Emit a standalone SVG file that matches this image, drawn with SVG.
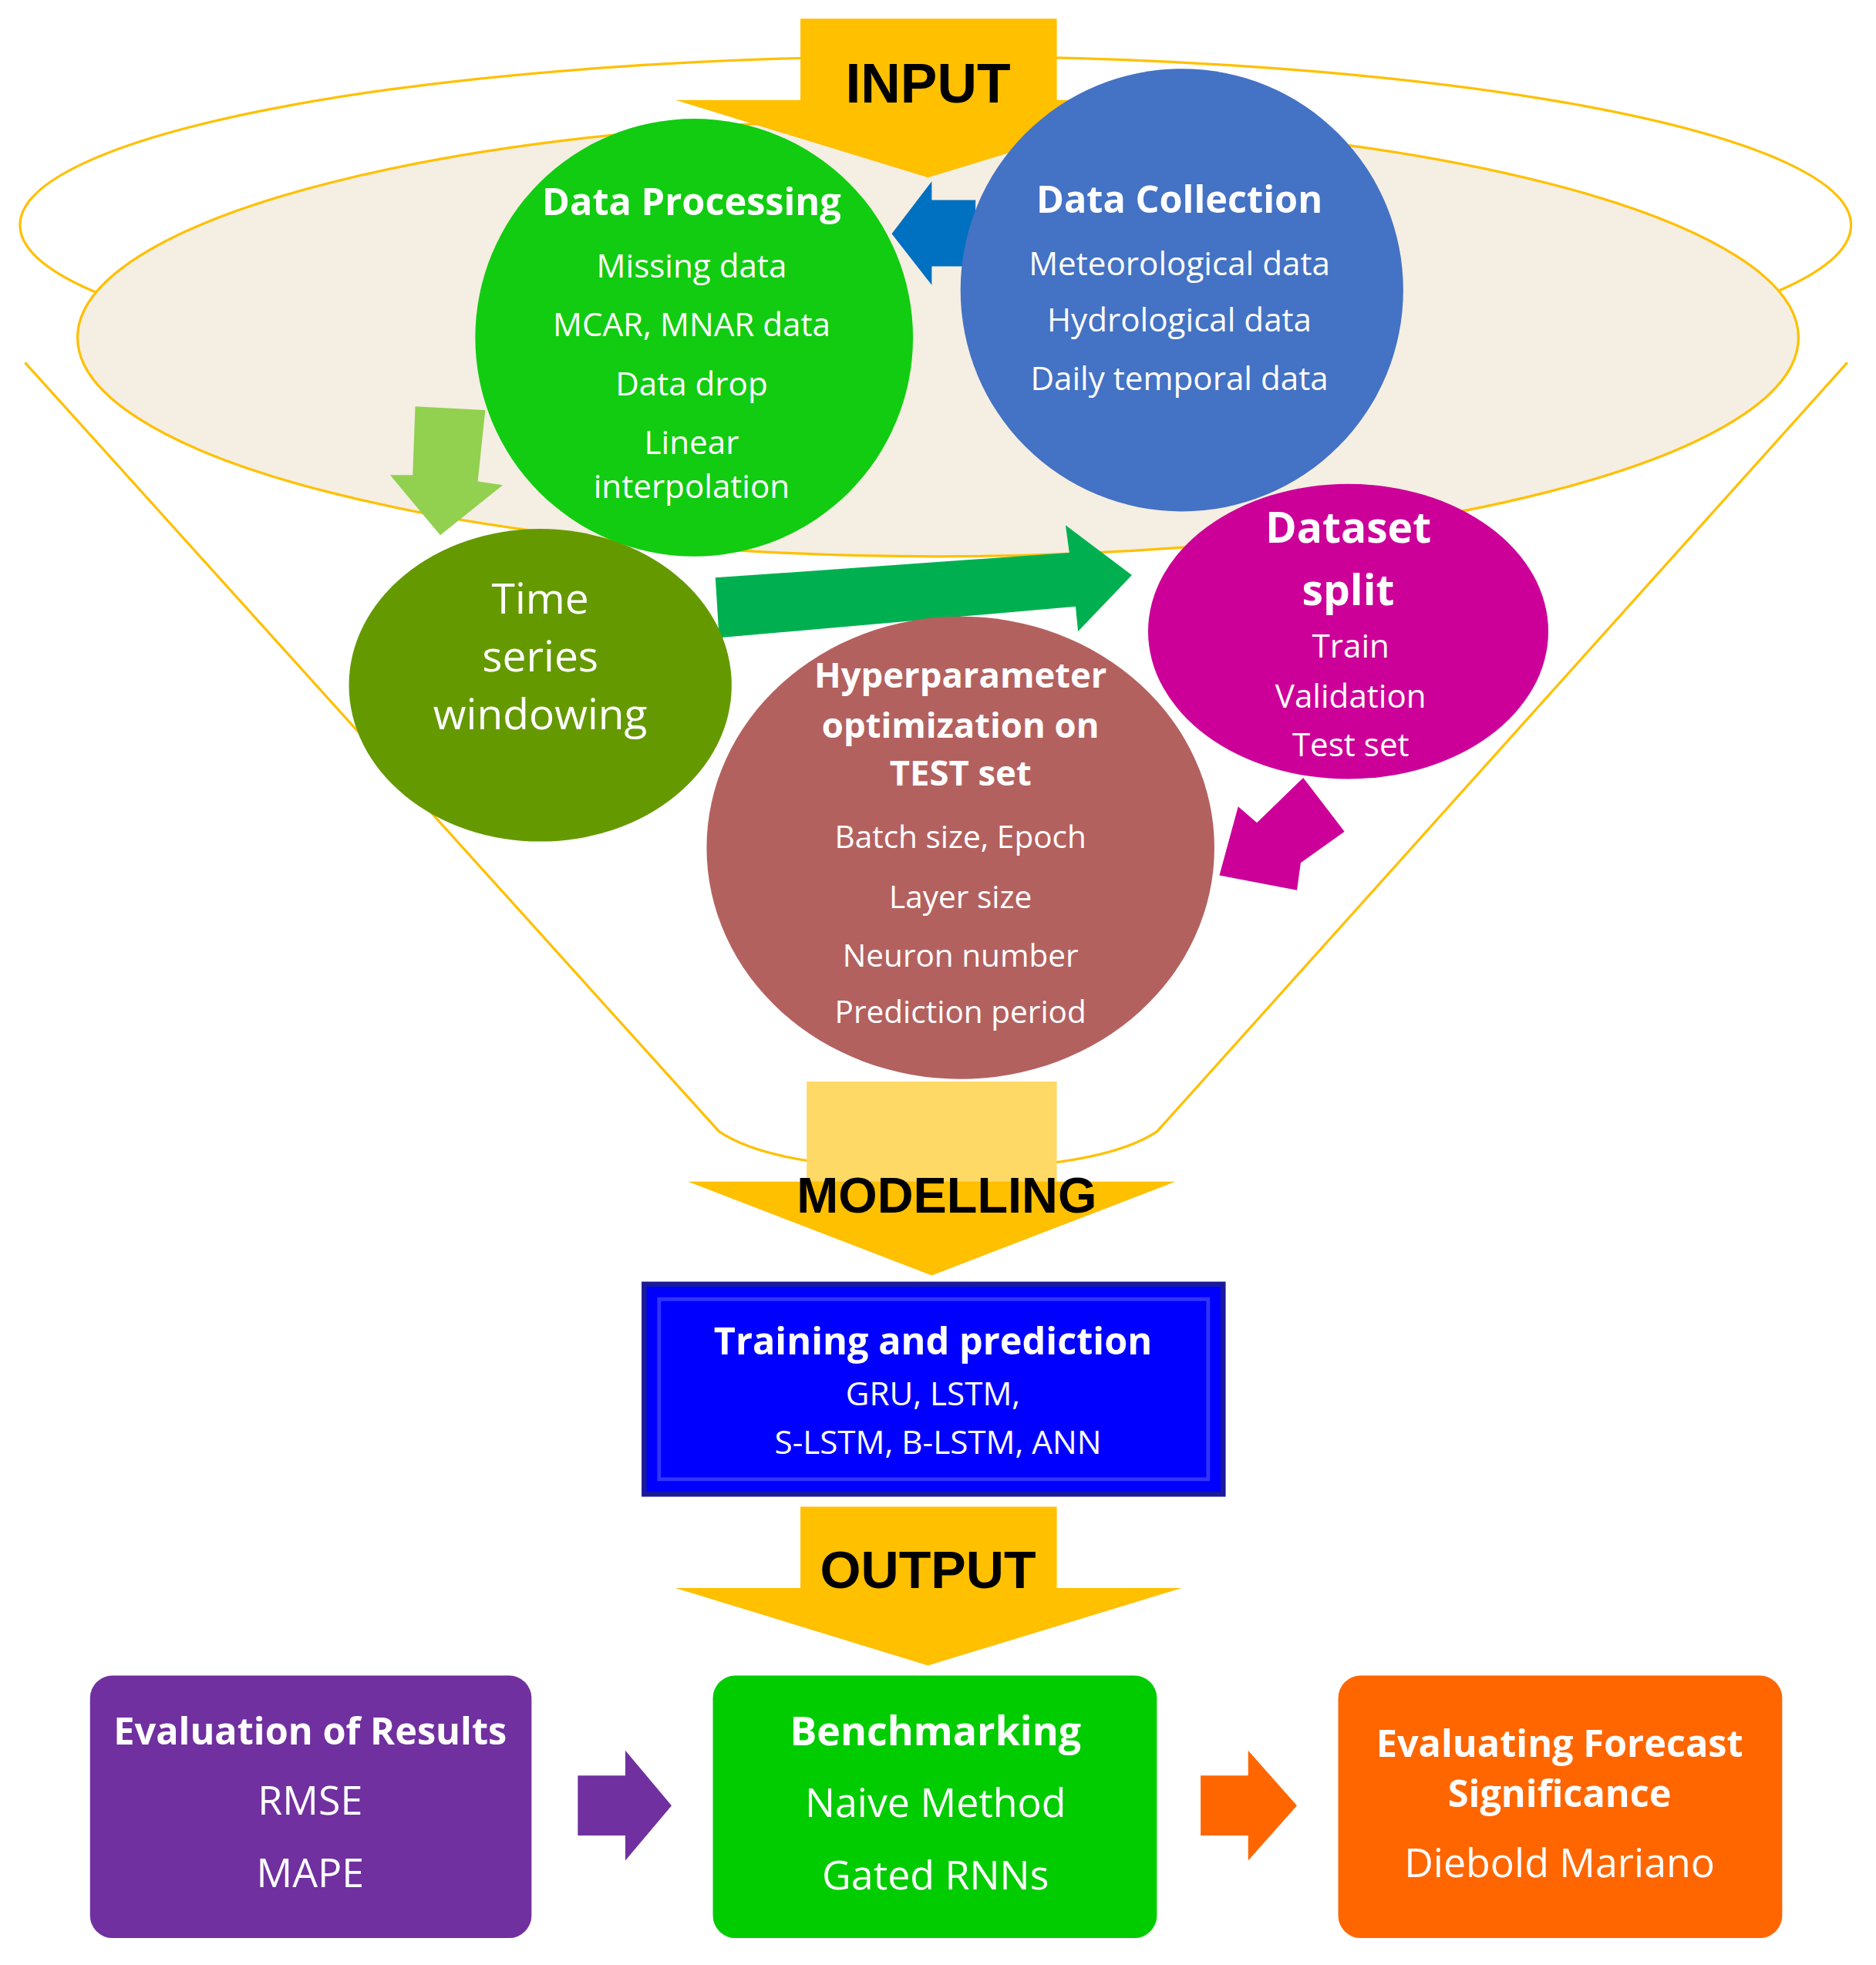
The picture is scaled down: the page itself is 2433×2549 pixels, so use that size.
<svg xmlns="http://www.w3.org/2000/svg" width="2433" height="2549" viewBox="0 0 2433 2549">
<style>
text{font-family:"Open Sans","Liberation Sans",sans-serif;fill:#fff;text-anchor:middle}
.b{font-weight:bold}
.k{fill:#000;font-weight:bold;font-family:"Liberation Sans Narrow","Liberation Sans",sans-serif}
.y{fill:#ffc000}
</style>
<rect width="2433" height="2549" fill="#fff"/>
<g transform="scale(1.622)">
<g id="funnel">
<path d="M20,290 L575,905 Q620,935 748,935 Q880,935 925,905 L1477,290" fill="none" stroke="#ffc000" stroke-width="2"/>
<ellipse cx="748" cy="180" rx="732" ry="135" fill="none" stroke="#ffc000" stroke-width="2"/>
<ellipse cx="750" cy="270" rx="688" ry="175" fill="#f5eee2" stroke="#ffc000" stroke-width="2"/>
</g>
<g id="connectors">
<polygon class="y" points="640,15 845,15 845,80 945,80 742,142 540,80 640,80"/>
<polygon fill="#0070c0" points="780,160 745,160 745,145 713,187 745,228 745,213 780,213"/>
<polygon fill="#92d050" points="332,325 388,328 382,385 402,388 352,428 312,380 330,380"/>
<polygon fill="#00b050" points="572,462 855,442 852,420 905,460 862,505 860,485 575,510"/>
<polygon fill="#cc0099" points="1042,622 1075,665 1040,690 1037,712 975,700 990,645 1005,658"/>
<rect x="645" y="865" width="200" height="82" fill="#ffd966"/>
<polygon class="y" points="550,945 940,945 745,1020"/>
<polygon class="y" points="640,1205 845,1205 845,1270 945,1270 742,1332 540,1270 640,1270"/>
<polygon fill="#7030a0" points="462,1420 500,1420 500,1400 537,1444 500,1488 500,1468 462,1468"/>
<polygon fill="#ff6600" points="960,1420 998,1420 998,1400 1037,1444 998,1488 998,1468 960,1468"/>
</g>
<g id="input"><text class="k" x="742" y="82" font-size="44">INPUT</text></g>
<g id="modelling"><text class="k" x="757" y="970" font-size="40">MODELLING</text></g>
<g id="output"><text class="k" x="742" y="1270" font-size="42">OUTPUT</text></g>
<g id="dataProcessing">
<circle cx="555" cy="270" r="175" fill="#11cc11"/>
<text class="b" x="553" y="172" font-size="30">Data Processing</text>
<text x="553" y="222" font-size="26">Missing data</text>
<text x="553" y="269" font-size="26">MCAR, MNAR data</text>
<text x="553" y="316" font-size="26">Data drop</text>
<text x="553" y="363" font-size="26">Linear</text>
<text x="553" y="398" font-size="26">interpolation</text>
</g>
<g id="dataCollection">
<circle cx="945" cy="232" r="177" fill="#4472c4"/>
<text class="b" x="943" y="170" font-size="30">Data Collection</text>
<text x="943" y="220" font-size="26">Meteorological data</text>
<text x="943" y="265" font-size="26">Hydrological data</text>
<text x="943" y="312" font-size="26">Daily temporal data</text>
</g>
<g id="timeSeries">
<ellipse cx="432" cy="548" rx="153" ry="125" fill="#659900"/>
<text x="432" y="491" font-size="34">Time</text>
<text x="432" y="537" font-size="34">series</text>
<text x="432" y="583" font-size="34">windowing</text>
</g>
<g id="datasetSplit">
<ellipse cx="1078" cy="505" rx="160" ry="118" fill="#cc0099"/>
<text class="b" x="1078" y="434" font-size="34">Dataset</text>
<text class="b" x="1078" y="484" font-size="34">split</text>
<text x="1080" y="526" font-size="26">Train</text>
<text x="1080" y="566" font-size="26">Validation</text>
<text x="1080" y="605" font-size="26">Test set</text>
</g>
<g id="hyperparameter">
<ellipse cx="768" cy="678" rx="203" ry="185" fill="#b3615f"/>
<text class="b" x="768" y="550" font-size="28">Hyperparameter</text>
<text class="b" x="768" y="590" font-size="28">optimization on</text>
<text class="b" x="768" y="628" font-size="28">TEST set</text>
<text x="768" y="678" font-size="25">Batch size, Epoch</text>
<text x="768" y="726" font-size="25">Layer size</text>
<text x="768" y="773" font-size="25">Neuron number</text>
<text x="768" y="818" font-size="25">Prediction period</text>
</g>
<g id="training">
<rect x="515" y="1027" width="463" height="168" fill="#0000ff" stroke="#1a1a99" stroke-width="4"/>
<rect x="527" y="1039" width="439" height="144" fill="none" stroke="#3333ff" stroke-width="3"/>
<text class="b" x="746" y="1083" font-size="30">Training and prediction</text>
<text x="746" y="1124" font-size="26">GRU, LSTM,</text>
<text x="750" y="1163" font-size="26">S-LSTM, B-LSTM, ANN</text>
</g>
<g id="evaluation">
<rect x="72" y="1340" width="353" height="210" rx="18" fill="#7030a0"/>
<text class="b" x="248" y="1395" font-size="30">Evaluation of Results</text>
<text x="248" y="1451" font-size="32">RMSE</text>
<text x="248" y="1509" font-size="32">MAPE</text>
</g>
<g id="benchmarking">
<rect x="570" y="1340" width="355" height="210" rx="18" fill="#00cc00"/>
<text class="b" x="748" y="1396" font-size="32">Benchmarking</text>
<text x="748" y="1453" font-size="32">Naive Method</text>
<text x="748" y="1511" font-size="32">Gated RNNs</text>
</g>
<g id="significance">
<rect x="1070" y="1340" width="355" height="210" rx="18" fill="#ff6600"/>
<text class="b" x="1247" y="1405" font-size="30">Evaluating Forecast</text>
<text class="b" x="1247" y="1445" font-size="30">Significance</text>
<text x="1247" y="1501" font-size="32">Diebold Mariano</text>
</g>
</g>
</svg>
